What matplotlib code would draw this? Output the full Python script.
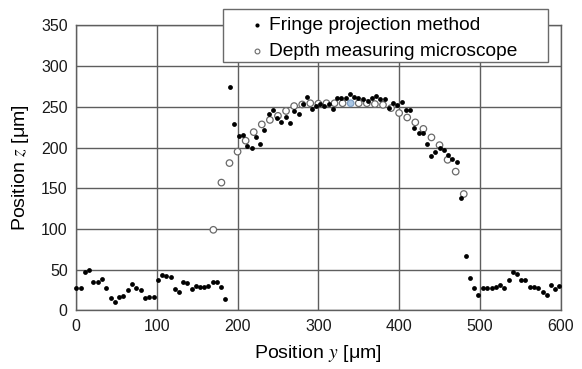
import matplotlib
matplotlib.use("Agg")
import matplotlib.pyplot as plt
from matplotlib.patches import Rectangle

plt.rcParams['font.family'] = ['Liberation Sans', 'DejaVu Sans']
plt.rcParams['mathtext.fontset'] = 'stix'

# fringe projection method (filled dots)
fringe_y = [0, 6, 11, 16.5, 21.5, 27, 32, 37, 43, 48, 53.5, 58.5, 64, 69, 74, 80, 85, 90.5, 96,
            101, 106.5, 112, 117, 122.5, 128, 133, 138, 143.5, 149, 154, 159, 164, 169, 174, 179.5, 185,
            190.5, 196, 202, 207, 212, 217.5, 223, 228, 233, 238.5, 244, 249, 254, 259.5, 265, 270,
            275.5, 280.5, 285.5, 292, 297, 302, 307.5, 313, 318, 323.5, 328.5, 334, 339, 344.5, 349.5,
            355, 361, 366, 371.5, 376.5, 382, 387.5, 392, 397.5, 403, 408, 413, 418.5, 424, 429, 435,
            439.5, 445, 450, 455, 461, 466, 472, 477, 482.5, 487.5, 493, 498, 503.5, 509, 514.5, 520,
            525, 530, 535.5, 541, 546, 551, 556, 561.5, 566.5, 571.5, 577.5, 583, 588, 593.5, 598.5]
fringe_z = [28, 28, 47, 50, 35, 34.5, 39, 28, 15.5, 10.5, 17, 18, 25, 32, 27, 24.5, 15.5, 16, 16,
            37, 43.5, 42, 41, 26, 22, 35.5, 34, 26, 29.5, 28.5, 28.5, 29.5, 35, 35, 28.5, 14,
            275, 229, 214, 215, 202, 200, 213, 204, 221.5, 241.5, 246, 236, 232, 237.5, 230.5, 244.5,
            241, 253, 262.5, 247.5, 251, 253, 251, 253.5, 248, 261, 261, 261, 266, 262.5, 260.5,
            259.5, 257, 261.5, 264, 259.5, 259.5, 249, 254.5, 252.5, 256, 246.5, 246.5, 224.5, 218.5, 218.5, 204,
            189.5, 194, 199, 197, 191, 186, 182.5, 137.5, 67, 40, 27, 18.5, 27, 28, 28, 28.5,
            31, 28, 37.5, 47, 44.5, 37.5, 37.5, 29, 29, 27, 22, 19, 31, 26, 30.5]

# depth measuring microscope (open circles)
micro_y = [170, 180, 190, 200, 210, 220, 230, 240, 250, 260, 270, 280, 290, 300, 310, 320, 330,
           340, 350, 360, 370, 380, 390, 400, 410, 420, 430, 440, 450, 460, 470, 480]
micro_z = [99, 157, 181, 195, 208.5, 219, 228.5, 234, 239, 245, 251, 253, 254.5, 254, 254.5, 254.5, 254.5,
           254.5, 254.5, 254.5, 253.5, 252.5, 248.5, 242.5, 237, 231, 223, 212.5, 203, 185, 170.5, 143]

fig = plt.figure(figsize=(5.82, 3.69), dpi=100)
ax = fig.add_axes([0.1306, 0.1588, 0.8328, 0.7721])

grid_c = '#5e5e5e'
ax.set_xlim(0, 600)
ax.set_ylim(0, 350)
ax.set_xticks(range(0, 601, 100))
ax.set_yticks(range(0, 351, 50))
ax.grid(True, color=grid_c, linewidth=1.0)
ax.set_axisbelow(True)
for s in ax.spines.values():
    s.set_color(grid_c)
    s.set_linewidth(1.0)
ax.tick_params(length=0, labelsize=11.5, pad=6, colors='#1a1a1a')

face = ['white'] * len(micro_y)
edge = ['#6a6a6a'] * len(micro_y)
i = micro_y.index(340)
face[i] = '#a9c6e4'
edge[i] = '#7f9fc4'

ax.scatter(micro_y, micro_z, s=22, facecolors=face, edgecolors=edge, linewidths=0.9,
           zorder=3, clip_on=False)
ax.scatter(fringe_y, fringe_z, s=12, color='black', linewidths=0, zorder=4, clip_on=False)

ax.set_xlabel('Position $y$ [μm]', fontsize=14, labelpad=7)
ax.set_ylabel('Position $z$ [μm]', fontsize=14, labelpad=7)

# legend box
ax.add_patch(Rectangle((0.304, 0.872), 0.670, 0.185, transform=ax.transAxes, clip_on=False,
                       facecolor='white', edgecolor='#6a6a6a', linewidth=1.0, zorder=5))
h1 = ax.scatter([], [], s=9, color='black', linewidths=0)
h2 = ax.scatter([], [], s=12, facecolors='white', edgecolors='#6a6a6a', linewidths=0.8)
leg = ax.legend([h1, h2], ['Fringe projection method', 'Depth measuring microscope'],
                loc='center left', bbox_to_anchor=(0.360, 0.955), frameon=False,
                fontsize=13.8, borderpad=0, handlelength=0.72, handletextpad=0.23,
                labelspacing=0.43, borderaxespad=0)
leg.set_zorder(6)

fig.savefig('out.png', dpi=100)
